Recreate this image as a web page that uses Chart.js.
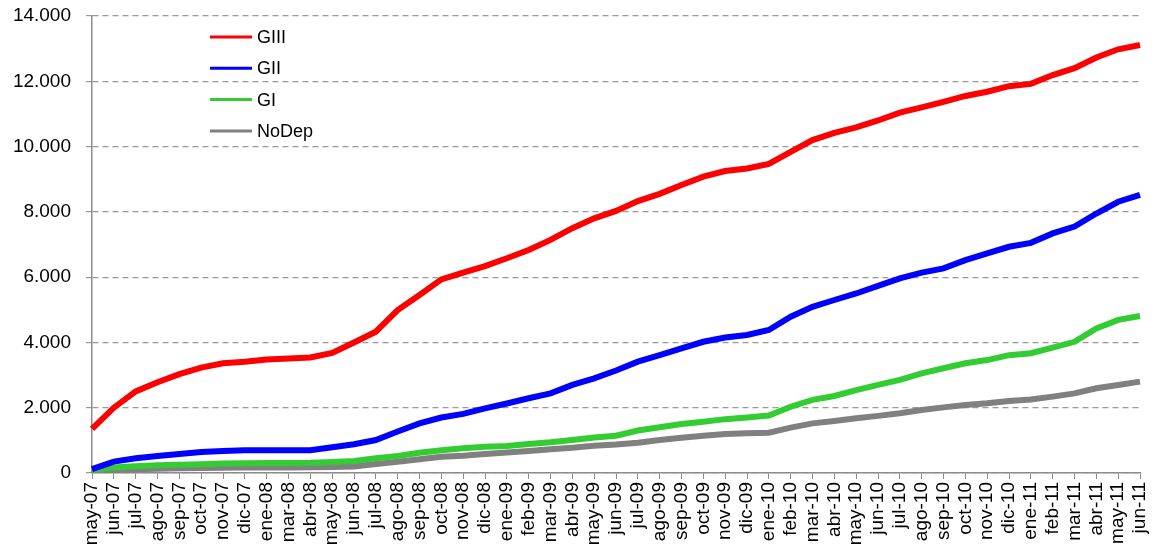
<!DOCTYPE html>
<html lang="es">
<head>
    <meta charset="UTF-8">
    <title>GIII / GII / GI / NoDep</title>
    <script src="https://cdn.jsdelivr.net/npm/chart.js"></script>
    <style>
        html, body {
            margin: 0;
            padding: 0;
            background: #fff;
        }
        #chart {
            display: block;
        }
    </style>
</head>
<body>

    <canvas id="chart" width="1154" height="557"></canvas>

    <script>
        // Month labels (feb-08 is not shown on the original axis)
        const months = [
            "may-07", "jun-07", "jul-07", "ago-07", "sep-07", "oct-07", "nov-07", "dic-07",
            "ene-08", "mar-08", "abr-08", "may-08", "jun-08", "jul-08", "ago-08", "sep-08",
            "oct-08", "nov-08", "dic-08", "ene-09", "feb-09", "mar-09", "abr-09", "may-09",
            "jun-09", "jul-09", "ago-09", "sep-09", "oct-09", "nov-09", "dic-09", "ene-10",
            "feb-10", "mar-10", "abr-10", "may-10", "jun-10", "jul-10", "ago-10", "sep-10",
            "oct-10", "nov-10", "dic-10", "ene-11", "feb-11", "mar-11", "abr-11", "may-11",
            "jun-11"
        ];

        const gIII = [
            1350, 2000, 2500, 2780, 3030, 3230, 3360, 3410, 3480, 3510,
            3540, 3680, 4000, 4330, 4990, 5450, 5930, 6140, 6340, 6580,
            6830, 7140, 7500, 7800, 8030, 8330, 8550, 8820, 9080, 9250,
            9330, 9470, 9840, 10200, 10420, 10590, 10800, 11040, 11200, 11370,
            11550, 11680, 11850, 11920, 12190, 12400, 12730, 12980, 13110
        ];
        const gII = [
            120, 350, 450, 520, 580, 640, 675, 700, 700, 700,
            700, 790, 880, 1010, 1270, 1520, 1700, 1810, 1980, 2130,
            2290, 2440, 2700, 2900, 3140, 3410, 3610, 3820, 4020, 4150,
            4230, 4380, 4790, 5090, 5300, 5500, 5730, 5960, 6140, 6270,
            6520, 6730, 6930, 7050, 7340, 7550, 7950, 8310, 8520
        ];
        const gI = [
            100, 170, 210, 240, 250, 270, 290, 300, 310, 310,
            315, 340, 370, 450, 520, 620, 700, 755, 805, 830,
            890, 940, 1010, 1090, 1140, 1300, 1400, 1500, 1570, 1650,
            1700, 1760, 2030, 2240, 2360, 2540, 2700, 2850, 3050, 3210,
            3360, 3460, 3610, 3670, 3840, 4020, 4430, 4690, 4810
        ];
        const noDep = [
            50, 90, 115, 130, 145, 155, 160, 165, 165, 170,
            175, 185, 200, 275, 345, 420, 500, 530, 580, 625,
            675, 725, 775, 835, 870, 930, 1010, 1080, 1140, 1195,
            1215, 1235, 1390, 1520, 1595, 1675, 1750, 1830, 1930, 2010,
            2080, 2135, 2205, 2255, 2340, 2440, 2595, 2695, 2800
        ];

        const FONT = '"Liberation Sans", Arial, sans-serif';
        const AXIS_GREY = "#8c8c8c";

        // 14000 -> "14.000"
        function fmt(v) {
            return String(v).replace(/\B(?=(\d{3})+(?!\d))/g, ".");
        }

        // Legend drawn inside the plot, top left, like the original
        const innerLegend = {
            id: "innerLegend",
            afterDraw(chart) {
                const ctx = chart.ctx;
                ctx.save();
                ctx.font = "18px " + FONT;
                ctx.textBaseline = "middle";
                ctx.fillStyle = "#000";
                chart.data.datasets.forEach((ds, i) => {
                    const y = 37 + i * 31.3;
                    ctx.strokeStyle = ds.borderColor;
                    ctx.lineWidth = 3;
                    ctx.beginPath();
                    ctx.moveTo(210, y);
                    ctx.lineTo(252, y);
                    ctx.stroke();
                    ctx.fillText(ds.label, 257, y + 1);
                });
                ctx.restore();
            }
        };

        function line(label, data, color, width) {
            return {
                label: label,
                data: data,
                borderColor: color,
                backgroundColor: color,
                borderWidth: width,
                pointRadius: 0,
                tension: 0,
                fill: false
            };
        }

        new Chart(document.getElementById("chart"), {
            type: "line",
            data: {
                labels: months,
                datasets: [
                    line("GIII", gIII, "#ff0000", 6),
                    line("GII", gII, "#0000ff", 6),
                    line("GI", gI, "#33cc33", 6),
                    line("NoDep", noDep, "#808080", 6)
                ]
            },
            options: {
                responsive: false,
                animation: false,
                layout: { padding: { top: 16, right: 14, left: 0, bottom: 0 } },
                plugins: {
                    legend: { display: false },
                    tooltip: { enabled: false }
                },
                scales: {
                    x: {
                        offset: false,
                        grid: {
                            drawOnChartArea: false,
                            color: AXIS_GREY,
                            tickLength: 6
                        },
                        border: { color: AXIS_GREY, width: 1.5 },
                        ticks: {
                            autoSkip: false,
                            maxRotation: 90,
                            minRotation: 90,
                            padding: 3,
                            color: "#000",
                            font: { family: FONT, size: 19 }
                        },
                        afterFit(scale) {
                            scale.height = 84;
                            scale.paddingLeft = 0;
                            scale.paddingRight = 0;
                        }
                    },
                    y: {
                        min: 0,
                        max: 14000,
                        grid: {
                            color: "#999",
                            lineWidth: 1.2,
                            tickLength: 6
                        },
                        border: { color: AXIS_GREY, width: 1.5, dash: [6, 4] },
                        ticks: {
                            stepSize: 2000,
                            padding: 15,
                            color: "#000",
                            font: { family: FONT, size: 19 },
                            callback: v => fmt(v)
                        },
                        afterFit(scale) {
                            scale.width = 92;
                            scale.paddingTop = 0;
                            scale.paddingBottom = 0;
                        }
                    }
                }
            },
            plugins: [innerLegend]
        });
    </script>

</body>
</html>
